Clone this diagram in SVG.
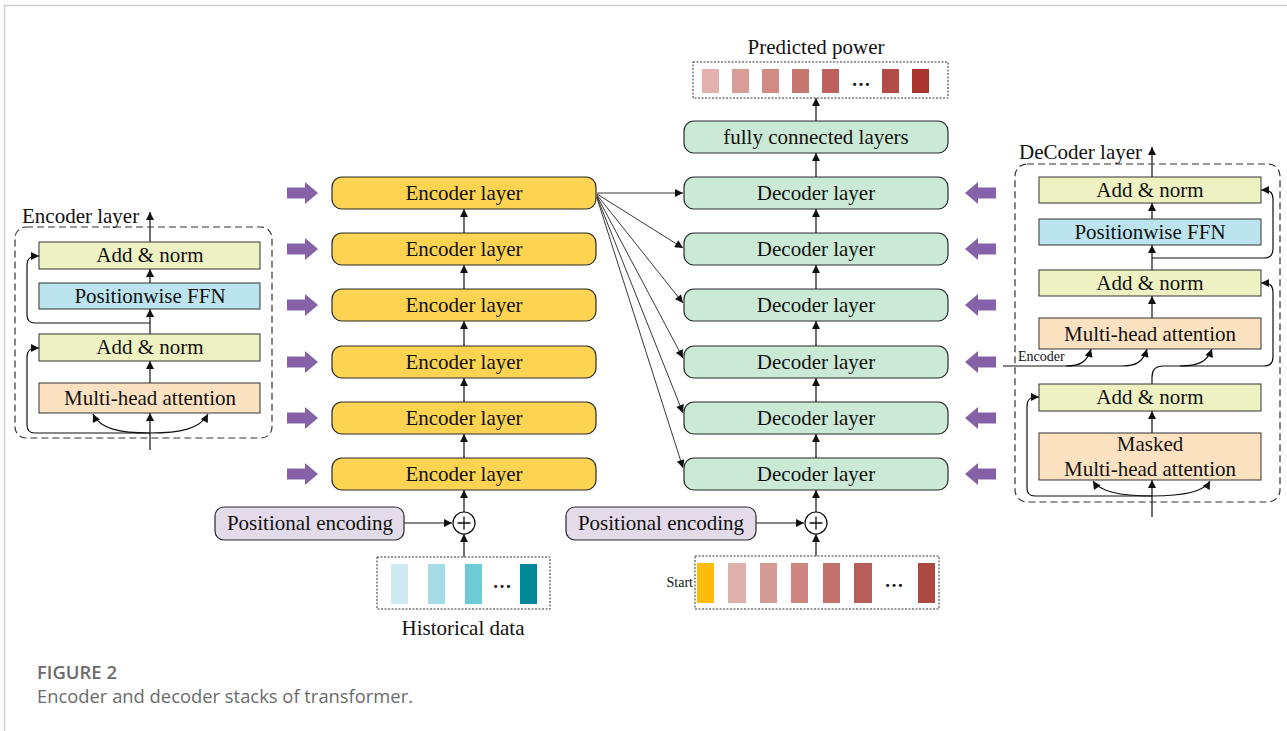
<svg xmlns="http://www.w3.org/2000/svg" width="1287" height="731" viewBox="0 0 1287 731">
  <style>
    .t { font-family: "Liberation Serif", "Times New Roman", serif; font-size: 21px; fill: #111; }
    .tc { text-anchor: middle; }
    .small { font-size: 14px; }
    .enc { fill: #fdd352; stroke: #2a2a2a; stroke-width: 1.2; }
    .dec { fill: #cbead5; stroke: #2a2a2a; stroke-width: 1.2; }
    .pe { fill: #e3dbe9; stroke: #2a2a2a; stroke-width: 1.2; }
    .an { fill: #eef1c2; stroke: #333; stroke-width: 1; }
    .ffn { fill: #bce4ee; stroke: #333; stroke-width: 1; }
    .mha { fill: #fde2c2; stroke: #333; stroke-width: 1; }
    .ln { fill: none; stroke: #111; stroke-width: 1.2; }
    .fan { fill: none; stroke: #222; stroke-width: 0.9; }
    .dash { fill: none; stroke: #333; stroke-width: 1.2; stroke-dasharray: 7 4; }
    .dot { fill: none; stroke: #333; stroke-width: 1; stroke-dasharray: 2 1.5; }
    .cap1 { font-family: "Open Sans", "Liberation Sans", sans-serif; font-size: 18px; font-weight: 600; fill: #6b6b6b; }
    .cap2 { font-family: "Open Sans", "Liberation Sans", sans-serif; font-size: 18px; fill: #6b6b6b; }
    .ell { font-family: "Liberation Serif", serif; font-size: 19px; font-weight: bold; fill: #111; text-anchor: middle; }
  </style>
  <defs>
    <marker id="ah" viewBox="0 0 10 10" refX="10" refY="5" markerWidth="9" markerHeight="8" orient="auto" markerUnits="userSpaceOnUse">
      <path d="M0,0 L10,5 L0,10 z" fill="#111"/>
    </marker>
    <path id="pr" d="M0,-5.5 L18,-5.5 L18,-11 L31,0 L18,11 L18,5.5 L0,5.5 z" fill="#8561a8"/>
  </defs>

  <!-- page frame -->
  <path d="M4.5,731 L4.5,5.5 L1287,5.5" fill="none" stroke="#cfcfcf" stroke-width="1.4"/>

  <!-- connectors -->
  <g id="connectors">
    <!-- encoder stack -->
    <line class="ln" x1="464" y1="233" x2="464" y2="209" marker-end="url(#ah)"/>
    <line class="ln" x1="464" y1="289" x2="464" y2="265" marker-end="url(#ah)"/>
    <line class="ln" x1="464" y1="346" x2="464" y2="321" marker-end="url(#ah)"/>
    <line class="ln" x1="464" y1="402" x2="464" y2="378" marker-end="url(#ah)"/>
    <line class="ln" x1="464" y1="458" x2="464" y2="434" marker-end="url(#ah)"/>
    <line class="ln" x1="464" y1="512" x2="464" y2="490" marker-end="url(#ah)"/>
    <line class="ln" x1="464" y1="557" x2="464" y2="534" marker-end="url(#ah)"/>
    <line class="ln" x1="404" y1="523" x2="452" y2="523" marker-end="url(#ah)"/>
    <!-- decoder stack -->
    <line class="ln" x1="816" y1="233" x2="816" y2="209" marker-end="url(#ah)"/>
    <line class="ln" x1="816" y1="289" x2="816" y2="265" marker-end="url(#ah)"/>
    <line class="ln" x1="816" y1="346" x2="816" y2="321" marker-end="url(#ah)"/>
    <line class="ln" x1="816" y1="402" x2="816" y2="378" marker-end="url(#ah)"/>
    <line class="ln" x1="816" y1="458" x2="816" y2="434" marker-end="url(#ah)"/>
    <line class="ln" x1="816" y1="512" x2="816" y2="490" marker-end="url(#ah)"/>
    <line class="ln" x1="816" y1="556" x2="816" y2="534" marker-end="url(#ah)"/>
    <line class="ln" x1="756" y1="523" x2="804" y2="523" marker-end="url(#ah)"/>
    <line class="ln" x1="816" y1="177" x2="816" y2="153" marker-end="url(#ah)"/>
    <line class="ln" x1="816" y1="121" x2="816" y2="98" marker-end="url(#ah)"/>
    <!-- encoder output fan-out to every decoder layer -->
    <line class="fan" x1="597" y1="193" x2="683" y2="193" marker-end="url(#ah)"/>
    <line class="fan" x1="597" y1="194" x2="683" y2="248" marker-end="url(#ah)"/>
    <line class="fan" x1="597" y1="195" x2="683" y2="303" marker-end="url(#ah)"/>
    <line class="fan" x1="597" y1="196" x2="683" y2="358" marker-end="url(#ah)"/>
    <line class="fan" x1="597" y1="197" x2="683" y2="413" marker-end="url(#ah)"/>
    <line class="fan" x1="597" y1="198" x2="683" y2="468" marker-end="url(#ah)"/>

    <!-- encoder layer detail -->
    <line class="ln" x1="150" y1="450" x2="150" y2="413" marker-end="url(#ah)"/>
    <path class="ln" d="M150,433 C120,433 100,429 93,414" marker-end="url(#ah)"/>
    <path class="ln" d="M150,433 C180,433 200,429 208,414" marker-end="url(#ah)"/>
    <path class="ln" d="M150,433 L35,433 Q27,433 27,425 L27,357 Q27,348 36,348 L39,348" marker-end="url(#ah)"/>
    <line class="ln" x1="150" y1="383" x2="150" y2="361" marker-end="url(#ah)"/>
    <line class="ln" x1="150" y1="334" x2="150" y2="309" marker-end="url(#ah)"/>
    <path class="ln" d="M150,323 L35,323 Q27,323 27,315 L27,265 Q27,256 36,256 L39,256" marker-end="url(#ah)"/>
    <line class="ln" x1="150" y1="283" x2="150" y2="269" marker-end="url(#ah)"/>
    <line class="ln" x1="150" y1="242" x2="150" y2="212" marker-end="url(#ah)"/>

    <!-- decoder layer detail -->
    <line class="ln" x1="1152" y1="517" x2="1152" y2="480" marker-end="url(#ah)"/>
    <path class="ln" d="M1152,496 C1122,496 1100,492 1093,481" marker-end="url(#ah)"/>
    <path class="ln" d="M1152,496 C1182,496 1204,492 1210,481" marker-end="url(#ah)"/>
    <path class="ln" d="M1152,496 L1035,496 Q1027,496 1027,488 L1027,406 Q1027,397 1036,397 L1039,397" marker-end="url(#ah)"/>
    <line class="ln" x1="1152" y1="433" x2="1152" y2="411" marker-end="url(#ah)"/>
    <path class="ln" d="M1152,384 L1152,377 Q1152,366 1163,366 L1264,366 Q1273,366 1273,357 L1273,292 Q1273,283 1264,283 L1261,283" marker-end="url(#ah)"/>
    <path class="ln" d="M1180,366 C1198,366 1207,362 1212,349" marker-end="url(#ah)"/>
    <path class="ln" d="M1003,366 L1066,366 C1080,366 1087,362 1091,349" marker-end="url(#ah)"/>
    <path class="ln" d="M1066,366 L1122,366 C1136,366 1143,362 1147,349" marker-end="url(#ah)"/>
    <line class="ln" x1="1152" y1="318" x2="1152" y2="296" marker-end="url(#ah)"/>
    <line class="ln" x1="1152" y1="270" x2="1152" y2="245" marker-end="url(#ah)"/>
    <path class="ln" d="M1152,258 L1264,258 Q1273,258 1273,249 L1273,199 Q1273,190 1264,190 L1261,190" marker-end="url(#ah)"/>
    <line class="ln" x1="1152" y1="219" x2="1152" y2="203" marker-end="url(#ah)"/>
    <line class="ln" x1="1152" y1="177" x2="1152" y2="147" marker-end="url(#ah)"/>
  </g>

  <!-- input arrows -->
  <g id="enc-inputs">
    <use href="#pr" x="287" y="193"/>
    <use href="#pr" x="287" y="249"/>
    <use href="#pr" x="287" y="305"/>
    <use href="#pr" x="287" y="362"/>
    <use href="#pr" x="287" y="418"/>
    <use href="#pr" x="287" y="474"/>
  </g>
  <g id="dec-inputs">
    <use href="#pr" transform="translate(996,193) scale(-1,1)"/>
    <use href="#pr" transform="translate(996,249) scale(-1,1)"/>
    <use href="#pr" transform="translate(996,305) scale(-1,1)"/>
    <use href="#pr" transform="translate(996,362) scale(-1,1)"/>
    <use href="#pr" transform="translate(996,418) scale(-1,1)"/>
    <use href="#pr" transform="translate(996,474) scale(-1,1)"/>
  </g>

  <!-- encoder stack -->
  <g id="encoder-6"><rect class="enc" x="332" y="177" width="264" height="32" rx="10"/><text class="t tc" x="464" y="200">Encoder layer</text></g>
  <g id="encoder-5"><rect class="enc" x="332" y="233" width="264" height="32" rx="10"/><text class="t tc" x="464" y="256">Encoder layer</text></g>
  <g id="encoder-4"><rect class="enc" x="332" y="289" width="264" height="32" rx="10"/><text class="t tc" x="464" y="312">Encoder layer</text></g>
  <g id="encoder-3"><rect class="enc" x="332" y="346" width="264" height="32" rx="10"/><text class="t tc" x="464" y="369">Encoder layer</text></g>
  <g id="encoder-2"><rect class="enc" x="332" y="402" width="264" height="32" rx="10"/><text class="t tc" x="464" y="425">Encoder layer</text></g>
  <g id="encoder-1"><rect class="enc" x="332" y="458" width="264" height="32" rx="10"/><text class="t tc" x="464" y="481">Encoder layer</text></g>

  <!-- decoder stack -->
  <g id="fc"><rect class="dec" x="684" y="121" width="264" height="32" rx="10"/><text class="t tc" x="816" y="144">fully connected layers</text></g>
  <g id="decoder-6"><rect class="dec" x="684" y="177" width="264" height="32" rx="10"/><text class="t tc" x="816" y="200">Decoder layer</text></g>
  <g id="decoder-5"><rect class="dec" x="684" y="233" width="264" height="32" rx="10"/><text class="t tc" x="816" y="256">Decoder layer</text></g>
  <g id="decoder-4"><rect class="dec" x="684" y="289" width="264" height="32" rx="10"/><text class="t tc" x="816" y="312">Decoder layer</text></g>
  <g id="decoder-3"><rect class="dec" x="684" y="346" width="264" height="32" rx="10"/><text class="t tc" x="816" y="369">Decoder layer</text></g>
  <g id="decoder-2"><rect class="dec" x="684" y="402" width="264" height="32" rx="10"/><text class="t tc" x="816" y="425">Decoder layer</text></g>
  <g id="decoder-1"><rect class="dec" x="684" y="458" width="264" height="32" rx="10"/><text class="t tc" x="816" y="481">Decoder layer</text></g>

  <!-- positional encoding and sums -->
  <g id="pe-enc"><rect class="pe" x="215" y="507" width="189" height="33" rx="9"/><text class="t tc" x="310" y="530">Positional encoding</text></g>
  <g id="sum-enc">
    <circle cx="464" cy="523" r="11" fill="#fff" stroke="#111" stroke-width="1.2"/>
    <path d="M457.5,523 H470.5 M464,516.5 V529.5" stroke="#111" stroke-width="1.3"/>
  </g>
  <g id="pe-dec"><rect class="pe" x="566" y="507" width="190" height="33" rx="9"/><text class="t tc" x="661" y="530">Positional encoding</text></g>
  <g id="sum-dec">
    <circle cx="816" cy="523" r="11" fill="#fff" stroke="#111" stroke-width="1.2"/>
    <path d="M809.5,523 H822.5 M816,516.5 V529.5" stroke="#111" stroke-width="1.3"/>
  </g>

  <!-- historical data sequence -->
  <g id="historical">
    <rect class="dot" x="377" y="557" width="173" height="52"/>
    <rect x="391" y="564" width="17" height="40" fill="#cdeaf0"/>
    <rect x="428" y="564" width="17" height="40" fill="#a3dce6"/>
    <rect x="465" y="564" width="17" height="40" fill="#6fcad8"/>
    <text class="ell" x="502" y="588">…</text>
    <rect x="520" y="564" width="17" height="40" fill="#00879a"/>
    <text class="t tc" x="463" y="635">Historical data</text>
  </g>

  <!-- decoder input sequence -->
  <g id="start-seq">
    <rect class="dot" x="695" y="556" width="244" height="53"/>
    <text class="t small" x="693" y="587" text-anchor="end">Start</text>
    <rect x="697" y="563" width="17" height="40" fill="#fdbb0b"/>
    <rect x="728" y="563" width="18" height="40" fill="#ddb0ab"/>
    <rect x="760" y="563" width="17" height="40" fill="#d59a94"/>
    <rect x="791" y="563" width="17" height="40" fill="#cd857f"/>
    <rect x="823" y="563" width="17" height="40" fill="#c2716b"/>
    <rect x="854" y="563" width="18" height="40" fill="#b75e59"/>
    <text class="ell" x="894" y="587">…</text>
    <rect x="918" y="563" width="17" height="40" fill="#ad4943"/>
  </g>

  <!-- predicted power sequence -->
  <g id="predicted">
    <text class="t tc" x="816" y="54">Predicted power</text>
    <rect class="dot" x="693" y="62" width="255" height="36"/>
    <rect x="702" y="69" width="17" height="24" fill="#e2b1ad"/>
    <rect x="732" y="69" width="17" height="24" fill="#d99d98"/>
    <rect x="762" y="69" width="17" height="24" fill="#d28a84"/>
    <rect x="792" y="69" width="17" height="24" fill="#c87770"/>
    <rect x="822" y="69" width="17" height="24" fill="#bf625d"/>
    <text class="ell" x="861" y="86">…</text>
    <rect x="882" y="69" width="17" height="24" fill="#b34c46"/>
    <rect x="912" y="69" width="17" height="24" fill="#a7342d"/>
  </g>

  <!-- encoder layer internals -->
  <g id="encoder-detail">
    <rect class="dash" x="15" y="227" width="257" height="211" rx="11"/>
    <text class="t" x="22" y="223">Encoder layer</text>
    <rect class="an" x="39" y="242" width="221" height="27"/>
    <text class="t tc" x="150" y="262">Add &amp; norm</text>
    <rect class="ffn" x="39" y="283" width="221" height="26"/>
    <text class="t tc" x="150" y="303">Positionwise FFN</text>
    <rect class="an" x="39" y="334" width="221" height="27"/>
    <text class="t tc" x="150" y="354">Add &amp; norm</text>
    <rect class="mha" x="39" y="383" width="221" height="30"/>
    <text class="t tc" x="150" y="405">Multi-head attention</text>
  </g>

  <!-- decoder layer internals -->
  <g id="decoder-detail">
    <rect class="dash" x="1015" y="164" width="265" height="338" rx="12"/>
    <text class="t" x="1019" y="159">DeCoder layer</text>
    <rect class="an" x="1039" y="177" width="222" height="26"/>
    <text class="t tc" x="1150" y="197">Add &amp; norm</text>
    <rect class="ffn" x="1039" y="219" width="222" height="26"/>
    <text class="t tc" x="1150" y="239">Positionwise FFN</text>
    <rect class="an" x="1039" y="270" width="222" height="26"/>
    <text class="t tc" x="1150" y="290">Add &amp; norm</text>
    <rect class="mha" x="1039" y="318" width="222" height="31"/>
    <text class="t tc" x="1150" y="341">Multi-head attention</text>
    <text class="t small" x="1018" y="361">Encoder</text>
    <rect class="an" x="1039" y="384" width="222" height="27"/>
    <text class="t tc" x="1150" y="404">Add &amp; norm</text>
    <rect class="mha" x="1039" y="433" width="222" height="47"/>
    <text class="t tc" x="1150" y="451">Masked</text>
    <text class="t tc" x="1150" y="476">Multi-head attention</text>
  </g>

  <!-- caption -->
  <g id="caption">
    <text class="cap1" x="37" y="679" textLength="80" lengthAdjust="spacingAndGlyphs">FIGURE 2</text>
    <text class="cap2" x="37" y="703" textLength="376" lengthAdjust="spacingAndGlyphs">Encoder and decoder stacks of transformer.</text>
  </g>
</svg>
